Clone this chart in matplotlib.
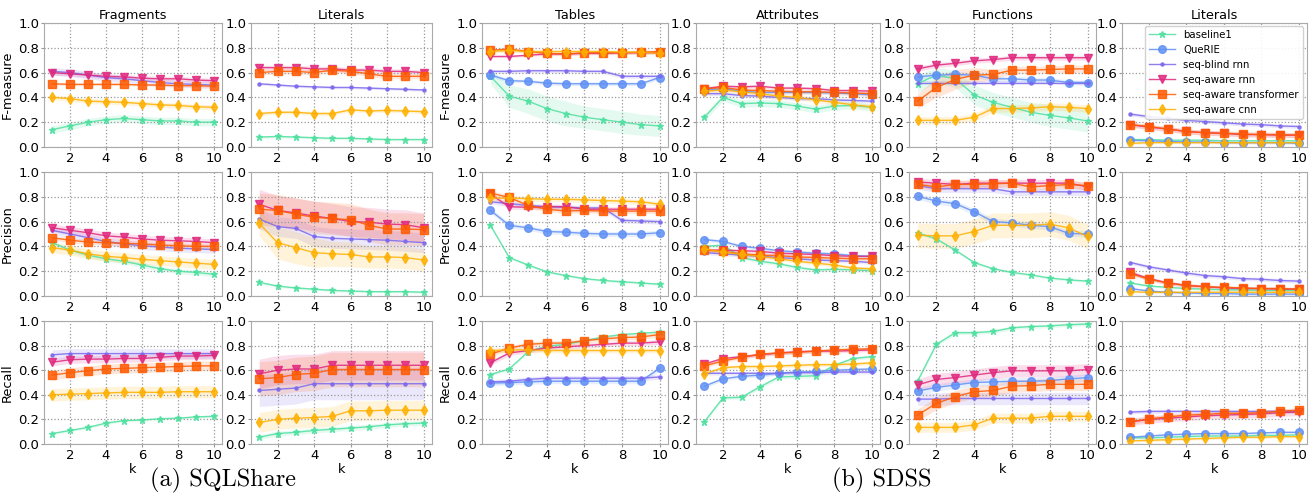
import numpy as np
import matplotlib
matplotlib.use("Agg")
import matplotlib.pyplot as plt


k = np.arange(1, 11)

series = ["baseline1", "QueRIE", "seq-blind rnn", "seq-aware rnn",
          "seq-aware transformer", "seq-aware cnn"]

colors = {
    "baseline1": "#4fe0a0",
    "QueRIE": "#6090f5",
    "seq-blind rnn": "#7b68ee",
    "seq-aware rnn": "#e0287e",
    "seq-aware transformer": "#ff5a00",
    "seq-aware cnn": "#ffb000",
}

markers = {
    "baseline1": ("*", 5),
    "QueRIE": ("o", 5.5),
    "seq-blind rnn": (".", 4.5),
    "seq-aware rnn": ("v", 5.5),
    "seq-aware transformer": ("s", 5.5),
    "seq-aware cnn": ("d", 5.5),
}


# ---------------- SQLShare : Fragments ----------------
frag_f = {
    "baseline1": [0.14, 0.17, 0.20, 0.22, 0.23, 0.22, 0.21, 0.21, 0.20, 0.20],
    "seq-blind rnn": [0.61, 0.60, 0.58, 0.56, 0.55, 0.535, 0.52, 0.51, 0.505, 0.50],
    "seq-aware rnn": [0.60, 0.59, 0.58, 0.57, 0.565, 0.555, 0.55, 0.55, 0.54, 0.535],
    "seq-aware transformer": [0.51, 0.505, 0.505, 0.505, 0.505, 0.50, 0.50, 0.495, 0.495, 0.49],
    "seq-aware cnn": [0.40, 0.39, 0.37, 0.365, 0.36, 0.35, 0.34, 0.335, 0.325, 0.32],
}
frag_f_band = {"baseline1": 0.03, "seq-blind rnn": 0.03, "seq-aware rnn": 0.02,
               "seq-aware transformer": 0.01, "seq-aware cnn": 0.02}

frag_p = {
    "baseline1": [0.43, 0.37, 0.33, 0.30, 0.28, 0.25, 0.22, 0.20, 0.19, 0.175],
    "seq-blind rnn": [0.53, 0.50, 0.47, 0.44, 0.42, 0.405, 0.395, 0.385, 0.38, 0.375],
    "seq-aware rnn": [0.55, 0.53, 0.51, 0.485, 0.475, 0.46, 0.45, 0.445, 0.44, 0.43],
    "seq-aware transformer": [0.47, 0.45, 0.435, 0.43, 0.425, 0.42, 0.41, 0.405, 0.40, 0.40],
    "seq-aware cnn": [0.39, 0.37, 0.34, 0.32, 0.31, 0.295, 0.285, 0.275, 0.265, 0.255],
}
frag_p_band = {"baseline1": 0.02, "seq-blind rnn": 0.03, "seq-aware rnn": 0.03,
               "seq-aware transformer": 0.02, "seq-aware cnn": 0.04}

frag_r = {
    "baseline1": [0.085, 0.11, 0.135, 0.17, 0.19, 0.195, 0.205, 0.21, 0.22, 0.225],
    "seq-blind rnn": [0.725, 0.735, 0.735, 0.735, 0.735, 0.735, 0.735, 0.735, 0.735, 0.735],
    "seq-aware rnn": [0.665, 0.685, 0.69, 0.69, 0.695, 0.695, 0.705, 0.715, 0.715, 0.72],
    "seq-aware transformer": [0.56, 0.58, 0.595, 0.61, 0.615, 0.62, 0.625, 0.63, 0.635, 0.635],
    "seq-aware cnn": [0.40, 0.405, 0.41, 0.415, 0.42, 0.42, 0.42, 0.425, 0.425, 0.425],
}
frag_r_band = {"baseline1": 0.01, "seq-blind rnn": 0.04, "seq-aware rnn": 0.03,
               "seq-aware transformer": 0.04, "seq-aware cnn": 0.05}

# ---------------- SQLShare : Literals ----------------
sql_lit_f = {
    "baseline1": [0.08, 0.085, 0.08, 0.075, 0.07, 0.07, 0.065, 0.06, 0.06, 0.06],
    "seq-blind rnn": [0.51, 0.50, 0.49, 0.485, 0.48, 0.48, 0.475, 0.47, 0.465, 0.46],
    "seq-aware rnn": [0.64, 0.64, 0.64, 0.63, 0.63, 0.62, 0.62, 0.61, 0.61, 0.60],
    "seq-aware transformer": [0.60, 0.61, 0.61, 0.60, 0.62, 0.61, 0.59, 0.57, 0.57, 0.57],
    "seq-aware cnn": [0.27, 0.28, 0.28, 0.27, 0.27, 0.30, 0.29, 0.295, 0.29, 0.285],
}
sql_lit_f_band = {"baseline1": 0.01, "seq-blind rnn": 0.01, "seq-aware rnn": 0.02,
                  "seq-aware transformer": 0.02, "seq-aware cnn": 0.015}

sql_lit_p = {
    "baseline1": [0.11, 0.08, 0.065, 0.055, 0.045, 0.04, 0.035, 0.035, 0.035, 0.03],
    "seq-blind rnn": [0.62, 0.56, 0.545, 0.48, 0.465, 0.46, 0.455, 0.45, 0.44, 0.43],
    "seq-aware rnn": [0.74, 0.69, 0.67, 0.645, 0.625, 0.60, 0.595, 0.58, 0.575, 0.55],
    "seq-aware transformer": [0.70, 0.69, 0.66, 0.635, 0.625, 0.615, 0.57, 0.54, 0.54, 0.535],
    "seq-aware cnn": [0.585, 0.43, 0.39, 0.35, 0.34, 0.335, 0.315, 0.315, 0.31, 0.29],
}
sql_lit_p_band = {"baseline1": 0.01, "seq-blind rnn": 0.08, "seq-aware rnn": 0.12,
                  "seq-aware transformer": 0.13,
                  "seq-aware cnn": [0.10, 0.13, 0.13, 0.12, 0.10, 0.10, 0.09, 0.09, 0.09, 0.09]}

sql_lit_r = {
    "baseline1": [0.055, 0.085, 0.095, 0.11, 0.12, 0.13, 0.14, 0.155, 0.165, 0.17],
    "seq-blind rnn": [0.435, 0.445, 0.455, 0.49, 0.49, 0.49, 0.49, 0.49, 0.49, 0.49],
    "seq-aware rnn": [0.57, 0.60, 0.61, 0.61, 0.64, 0.64, 0.64, 0.64, 0.64, 0.64],
    "seq-aware transformer": [0.53, 0.54, 0.565, 0.575, 0.605, 0.605, 0.605, 0.605, 0.605, 0.605],
    "seq-aware cnn": [0.175, 0.20, 0.21, 0.215, 0.225, 0.27, 0.27, 0.275, 0.275, 0.275],
}
sql_lit_r_band = {"baseline1": 0.02, "seq-blind rnn": 0.13, "seq-aware rnn": 0.12,
                  "seq-aware transformer": 0.14, "seq-aware cnn": 0.08}

# ---------------- SDSS : Tables ----------------
tab_f = {
    "baseline1": [0.57, 0.41, 0.37, 0.31, 0.27, 0.24, 0.22, 0.20, 0.18, 0.17],
    "QueRIE": [0.58, 0.535, 0.53, 0.515, 0.51, 0.51, 0.51, 0.51, 0.51, 0.56],
    "seq-blind rnn": [0.61, 0.61, 0.615, 0.615, 0.615, 0.61, 0.61, 0.57, 0.57, 0.57],
    "seq-aware rnn": [0.73, 0.73, 0.74, 0.75, 0.75, 0.755, 0.755, 0.76, 0.76, 0.76],
    "seq-aware transformer": [0.78, 0.79, 0.77, 0.755, 0.75, 0.76, 0.76, 0.76, 0.765, 0.77],
    "seq-aware cnn": [0.77, 0.78, 0.77, 0.77, 0.77, 0.77, 0.77, 0.765, 0.765, 0.755],
}
tab_f_band = {"baseline1": [0.06, 0.09, 0.10, 0.10, 0.10, 0.09, 0.09, 0.09, 0.085, 0.085],
              "QueRIE": 0.015, "seq-blind rnn": 0.015, "seq-aware rnn": 0.01,
              "seq-aware transformer": 0.015, "seq-aware cnn": 0.015}

tab_p = {
    "baseline1": [0.57, 0.31, 0.25, 0.195, 0.165, 0.14, 0.125, 0.115, 0.105, 0.095],
    "QueRIE": [0.69, 0.57, 0.55, 0.52, 0.515, 0.505, 0.50, 0.50, 0.50, 0.51],
    "seq-blind rnn": [0.76, 0.745, 0.73, 0.72, 0.715, 0.71, 0.71, 0.61, 0.605, 0.60],
    "seq-aware rnn": [0.82, 0.72, 0.715, 0.72, 0.72, 0.70, 0.70, 0.70, 0.70, 0.70],
    "seq-aware transformer": [0.83, 0.795, 0.73, 0.70, 0.685, 0.69, 0.685, 0.685, 0.685, 0.685],
    "seq-aware cnn": [0.79, 0.79, 0.785, 0.78, 0.78, 0.775, 0.77, 0.765, 0.76, 0.74],
}
tab_p_band = {"baseline1": 0.01, "QueRIE": 0.02, "seq-blind rnn": 0.02,
              "seq-aware rnn": 0.02, "seq-aware transformer": 0.02, "seq-aware cnn": 0.02}

tab_r = {
    "baseline1": [0.565, 0.61, 0.75, 0.795, 0.81, 0.84, 0.87, 0.89, 0.90, 0.91],
    "QueRIE": [0.495, 0.50, 0.505, 0.51, 0.51, 0.51, 0.51, 0.51, 0.51, 0.615],
    "seq-blind rnn": [0.505, 0.51, 0.525, 0.535, 0.535, 0.535, 0.535, 0.535, 0.535, 0.545],
    "seq-aware rnn": [0.66, 0.74, 0.76, 0.78, 0.79, 0.80, 0.81, 0.82, 0.82, 0.83],
    "seq-aware transformer": [0.73, 0.78, 0.81, 0.82, 0.82, 0.84, 0.855, 0.865, 0.87, 0.89],
    "seq-aware cnn": [0.76, 0.765, 0.765, 0.76, 0.76, 0.76, 0.76, 0.76, 0.76, 0.76],
}
tab_r_band = {"baseline1": 0.01, "QueRIE": 0.02, "seq-blind rnn": 0.02,
              "seq-aware rnn": 0.02, "seq-aware transformer": 0.02, "seq-aware cnn": 0.02}

# ---------------- SDSS : Attributes ----------------
attr_f = {
    "baseline1": [0.24, 0.40, 0.35, 0.355, 0.35, 0.33, 0.305, 0.33, 0.335, 0.32],
    "QueRIE": [0.46, 0.47, 0.45, 0.44, 0.44, 0.44, 0.44, 0.435, 0.43, 0.42],
    "seq-blind rnn": [0.43, 0.43, 0.415, 0.41, 0.40, 0.39, 0.39, 0.38, 0.375, 0.37],
    "seq-aware rnn": [0.47, 0.49, 0.485, 0.49, 0.475, 0.475, 0.47, 0.455, 0.455, 0.45],
    "seq-aware transformer": [0.47, 0.48, 0.46, 0.455, 0.45, 0.445, 0.445, 0.44, 0.435, 0.43],
    "seq-aware cnn": [0.45, 0.46, 0.445, 0.43, 0.41, 0.40, 0.38, 0.36, 0.34, 0.325],
}
attr_f_band = {"baseline1": 0.03, "QueRIE": 0.015, "seq-blind rnn": 0.015,
               "seq-aware rnn": 0.015, "seq-aware transformer": 0.015, "seq-aware cnn": 0.02}

attr_p = {
    "baseline1": [0.40, 0.41, 0.31, 0.28, 0.26, 0.23, 0.21, 0.215, 0.21, 0.205],
    "QueRIE": [0.455, 0.44, 0.40, 0.385, 0.365, 0.355, 0.345, 0.34, 0.325, 0.32],
    "seq-blind rnn": [0.35, 0.34, 0.33, 0.32, 0.31, 0.30, 0.29, 0.285, 0.28, 0.27],
    "seq-aware rnn": [0.37, 0.37, 0.365, 0.36, 0.345, 0.34, 0.335, 0.325, 0.32, 0.32],
    "seq-aware transformer": [0.37, 0.36, 0.34, 0.33, 0.325, 0.315, 0.31, 0.305, 0.30, 0.30],
    "seq-aware cnn": [0.38, 0.355, 0.335, 0.32, 0.30, 0.28, 0.265, 0.25, 0.225, 0.22],
}
attr_p_band = {"baseline1": 0.015, "QueRIE": 0.015, "seq-blind rnn": 0.015,
               "seq-aware rnn": 0.015, "seq-aware transformer": 0.015, "seq-aware cnn": 0.015}

attr_r = {
    "baseline1": [0.18, 0.375, 0.38, 0.465, 0.545, 0.55, 0.555, 0.64, 0.695, 0.71],
    "QueRIE": [0.47, 0.53, 0.55, 0.56, 0.575, 0.585, 0.59, 0.60, 0.605, 0.61],
    "seq-blind rnn": [0.575, 0.575, 0.575, 0.575, 0.575, 0.58, 0.58, 0.585, 0.585, 0.585],
    "seq-aware rnn": [0.65, 0.695, 0.71, 0.725, 0.74, 0.75, 0.755, 0.755, 0.76, 0.765],
    "seq-aware transformer": [0.635, 0.675, 0.705, 0.73, 0.74, 0.745, 0.755, 0.765, 0.77, 0.775],
    "seq-aware cnn": [0.57, 0.62, 0.63, 0.63, 0.635, 0.64, 0.645, 0.645, 0.65, 0.66],
}
attr_r_band = {"baseline1": 0.015, "QueRIE": 0.015, "seq-blind rnn": 0.015,
               "seq-aware rnn": 0.015, "seq-aware transformer": 0.015, "seq-aware cnn": 0.015}

# ---------------- SDSS : Functions ----------------
func_f = {
    "baseline1": [0.51, 0.58, 0.55, 0.42, 0.36, 0.32, 0.28, 0.255, 0.235, 0.21],
    "QueRIE": [0.565, 0.58, 0.585, 0.58, 0.55, 0.55, 0.54, 0.54, 0.52, 0.52],
    "seq-blind rnn": [0.52, 0.52, 0.52, 0.52, 0.52, 0.52, 0.52, 0.52, 0.52, 0.52],
    "seq-aware rnn": [0.63, 0.66, 0.675, 0.695, 0.705, 0.72, 0.72, 0.72, 0.72, 0.72],
    "seq-aware transformer": [0.37, 0.48, 0.545, 0.58, 0.585, 0.62, 0.62, 0.625, 0.63, 0.63],
    "seq-aware cnn": [0.215, 0.215, 0.215, 0.24, 0.31, 0.31, 0.315, 0.325, 0.32, 0.31],
}
func_f_band = {"baseline1": [0.07, 0.06, 0.07, 0.08, 0.08, 0.08, 0.08, 0.09, 0.09, 0.09],
               "QueRIE": 0.02, "seq-blind rnn": 0.01, "seq-aware rnn": 0.02,
               "seq-aware transformer": [0.06, 0.08, 0.08, 0.06, 0.04, 0.03, 0.03, 0.03, 0.03, 0.03],
               "seq-aware cnn": 0.03}

func_p = {
    "baseline1": [0.51, 0.46, 0.37, 0.27, 0.22, 0.19, 0.17, 0.145, 0.13, 0.12],
    "QueRIE": [0.805, 0.765, 0.745, 0.68, 0.60, 0.59, 0.57, 0.56, 0.505, 0.50],
    "seq-blind rnn": [0.89, 0.865, 0.865, 0.865, 0.865, 0.84, 0.84, 0.84, 0.84, 0.84],
    "seq-aware rnn": [0.92, 0.91, 0.90, 0.91, 0.91, 0.91, 0.91, 0.91, 0.91, 0.88],
    "seq-aware transformer": [0.90, 0.88, 0.90, 0.90, 0.905, 0.91, 0.88, 0.89, 0.90, 0.89],
    "seq-aware cnn": [0.49, 0.485, 0.485, 0.52, 0.57, 0.57, 0.57, 0.58, 0.55, 0.48],
}
func_p_band = {"baseline1": 0.01, "QueRIE": 0.025, "seq-blind rnn": 0.03,
               "seq-aware rnn": 0.03, "seq-aware transformer": 0.03, "seq-aware cnn": 0.1}

func_r = {
    "baseline1": [0.51, 0.81, 0.905, 0.905, 0.915, 0.945, 0.955, 0.96, 0.97, 0.975],
    "QueRIE": [0.43, 0.46, 0.48, 0.50, 0.505, 0.51, 0.51, 0.515, 0.53, 0.54],
    "seq-blind rnn": [0.365, 0.365, 0.37, 0.37, 0.37, 0.37, 0.37, 0.37, 0.37, 0.37],
    "seq-aware rnn": [0.48, 0.525, 0.54, 0.56, 0.58, 0.595, 0.595, 0.595, 0.595, 0.605],
    "seq-aware transformer": [0.235, 0.33, 0.385, 0.425, 0.435, 0.47, 0.475, 0.485, 0.485, 0.485],
    "seq-aware cnn": [0.135, 0.135, 0.135, 0.155, 0.21, 0.21, 0.21, 0.225, 0.225, 0.225],
}
func_r_band = {"baseline1": 0.015, "QueRIE": 0.03, "seq-blind rnn": 0.05,
               "seq-aware rnn": 0.05, "seq-aware transformer": 0.05, "seq-aware cnn": 0.04}

# ---------------- SDSS : Literals ----------------
sdss_lit_f = {
    "baseline1": [0.06, 0.06, 0.055, 0.055, 0.055, 0.05, 0.05, 0.05, 0.05, 0.05],
    "QueRIE": [0.055, 0.05, 0.045, 0.04, 0.04, 0.035, 0.035, 0.035, 0.035, 0.03],
    "seq-blind rnn": [0.265, 0.245, 0.23, 0.215, 0.205, 0.195, 0.185, 0.18, 0.17, 0.165],
    "seq-aware rnn": [0.18, 0.16, 0.145, 0.125, 0.115, 0.11, 0.10, 0.10, 0.095, 0.095],
    "seq-aware transformer": [0.18, 0.165, 0.145, 0.125, 0.115, 0.11, 0.105, 0.10, 0.10, 0.095],
    "seq-aware cnn": [0.03, 0.035, 0.035, 0.035, 0.035, 0.035, 0.035, 0.035, 0.035, 0.035],
}
sdss_lit_f_band = {"baseline1": 0.01, "QueRIE": 0.01, "seq-blind rnn": 0.015,
                   "seq-aware rnn": 0.02, "seq-aware transformer": 0.02, "seq-aware cnn": 0.01}

sdss_lit_p = {
    "baseline1": [0.105, 0.08, 0.07, 0.06, 0.055, 0.05, 0.05, 0.045, 0.045, 0.045],
    "QueRIE": [0.06, 0.04, 0.03, 0.025, 0.02, 0.02, 0.015, 0.015, 0.015, 0.015],
    "seq-blind rnn": [0.27, 0.235, 0.21, 0.185, 0.165, 0.155, 0.14, 0.135, 0.125, 0.12],
    "seq-aware rnn": [0.19, 0.14, 0.105, 0.085, 0.075, 0.065, 0.06, 0.06, 0.055, 0.055],
    "seq-aware transformer": [0.18, 0.135, 0.105, 0.085, 0.075, 0.07, 0.065, 0.06, 0.06, 0.055],
    "seq-aware cnn": [0.035, 0.03, 0.03, 0.03, 0.03, 0.03, 0.03, 0.03, 0.03, 0.03],
}
sdss_lit_p_band = {"baseline1": 0.01, "QueRIE": 0.01, "seq-blind rnn": 0.015,
                   "seq-aware rnn": 0.015, "seq-aware transformer": 0.015, "seq-aware cnn": 0.01}

sdss_lit_r = {
    "baseline1": [0.05, 0.05, 0.055, 0.06, 0.065, 0.065, 0.065, 0.07, 0.07, 0.075],
    "QueRIE": [0.055, 0.065, 0.075, 0.08, 0.085, 0.085, 0.085, 0.09, 0.095, 0.095],
    "seq-blind rnn": [0.26, 0.265, 0.265, 0.265, 0.265, 0.265, 0.265, 0.265, 0.265, 0.265],
    "seq-aware rnn": [0.18, 0.20, 0.21, 0.22, 0.23, 0.235, 0.24, 0.245, 0.255, 0.26],
    "seq-aware transformer": [0.18, 0.205, 0.22, 0.235, 0.24, 0.25, 0.25, 0.255, 0.265, 0.275],
    "seq-aware cnn": [0.025, 0.03, 0.035, 0.04, 0.045, 0.05, 0.055, 0.055, 0.06, 0.06],
}
sdss_lit_r_band = {"baseline1": 0.01, "QueRIE": 0.01, "seq-blind rnn": 0.015,
                   "seq-aware rnn": 0.03, "seq-aware transformer": 0.02, "seq-aware cnn": 0.01}


titles = ["Fragments", "Literals", "Tables", "Attributes", "Functions", "Literals"]
row_labels = ["F-measure", "Precision", "Recall"]

panels = [
    [(frag_f, frag_f_band), (sql_lit_f, sql_lit_f_band), (tab_f, tab_f_band),
     (attr_f, attr_f_band), (func_f, func_f_band), (sdss_lit_f, sdss_lit_f_band)],
    [(frag_p, frag_p_band), (sql_lit_p, sql_lit_p_band), (tab_p, tab_p_band),
     (attr_p, attr_p_band), (func_p, func_p_band), (sdss_lit_p, sdss_lit_p_band)],
    [(frag_r, frag_r_band), (sql_lit_r, sql_lit_r_band), (tab_r, tab_r_band),
     (attr_r, attr_r_band), (func_r, func_r_band), (sdss_lit_r, sdss_lit_r_band)],
]


W, H = 1313, 498
col_px = [(44, 222), (251, 432), (482, 668), (696, 880), (909, 1096), (1122, 1307)]
row_px = [(23, 147), (172, 296), (321, 444)]

fig = plt.figure(figsize=(W / 100, H / 100), dpi=100)

for r, (top, bot) in enumerate(row_px):
    for c, (left, right) in enumerate(col_px):
        ax = fig.add_axes([left / W, 1 - bot / H, (right - left) / W, (bot - top) / H])
        data, bands = panels[r][c]

        for name in series:
            if name not in data:
                continue
            y = np.array(data[name])
            half = np.array(bands[name]) * np.ones(len(k))
            col = colors[name]
            m, ms = markers[name]
            ax.fill_between(k, y - half, y + half, color=col, alpha=0.15, lw=0)
            ax.plot(k, y, color=col, marker=m, markersize=ms, lw=1,
                    alpha=0.85, label=name)

        ax.set_xlim(0.55, 10.45)
        ax.set_ylim(0, 1)
        ax.set_xticks([2, 4, 6, 8, 10])
        ax.set_yticks([0.0, 0.2, 0.4, 0.6, 0.8, 1.0])
        ax.set_yticklabels(["0.0", "0.2", "0.4", "0.6", "0.8", "1.0"])
        ax.tick_params(labelsize=9.5, length=2, color="#999999", pad=1.5)
        ax.grid(True, linestyle=":", color="#999999", linewidth=0.9)
        for sp in ax.spines.values():
            sp.set_color("#aaaaaa")

        if r == 0:
            ax.set_title(titles[c], fontsize=9.3, pad=3)
        if r == 2:
            ax.set_xlabel("k", fontsize=9.3, labelpad=1)
        if c in (0, 2):
            ax.set_ylabel(row_labels[r], fontsize=9.3, labelpad=3)

        if r == 0 and c == 5:
            ax.legend(loc="upper right", fontsize=7.3, framealpha=0.9,
                      borderpad=0.4, labelspacing=0.5, handlelength=2.6,
                      bbox_to_anchor=(1.005, 1.02))

fig.text(223 / W, 1 - 480 / H, "(a) SQLShare", fontsize=17.5, family="cmr10",
         ha="center", va="center")
fig.text(882 / W, 1 - 480 / H, "(b) SDSS", fontsize=17.5, family="cmr10",
         ha="center", va="center")

fig.savefig("out.png", dpi=100)
